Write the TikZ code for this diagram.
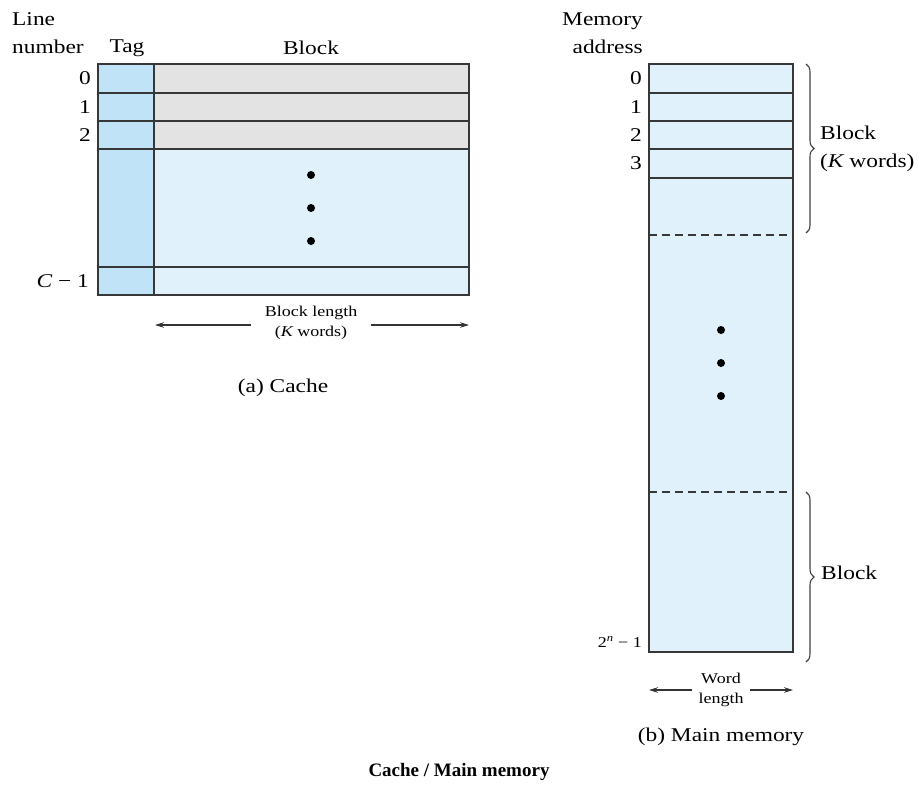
\documentclass[tikz,border=0pt]{standalone}
\usepackage{fontspec}
\setmainfont{Liberation Serif}[FakeStretch=1.2]
\newfontfamily\titlefont{Liberation Serif}
\usetikzlibrary{arrows.meta, positioning, decorations.pathreplacing, calc}
\usepackage{xcolor}
\definecolor{tagblue}{RGB}{192, 227, 247}
\definecolor{cellblue}{RGB}{224, 241, 252}
\definecolor{rowgray}{RGB}{227, 227, 227}
\definecolor{linegray}{RGB}{55, 55, 55}

\begin{document}
\begin{tikzpicture}[
  x=1pt, y=-1pt,
  lab/.style={font=\fontsize{19.5}{28}\selectfont, inner sep=0pt},
  small/.style={font=\fontsize{15}{20}\selectfont, inner sep=1pt, align=center},
  cell/.style={draw=linegray, line width=1.3pt},
  dcell/.style={draw=linegray, line width=1.2pt, dash pattern=on 8pt off 5pt},
  arr/.style={-{Stealth[length=9pt, width=5.5pt]}, line width=1.1pt, black!80},
  brc/.style={decorate, decoration={brace, amplitude=8pt}, line width=1.1pt, black!75},
  dot/.style={circle, fill=black, inner sep=0pt, minimum size=8pt}
]
\useasboundingbox (0,0) rectangle (919,787);

% (a) cache
\fill[tagblue]  (98,64)  rectangle (154,295);
\fill[rowgray]  (154,64) rectangle (469,149);
\fill[cellblue] (154,149) rectangle (469,295);
\draw[cell] (98,64) rectangle (469,295);
\draw[cell] (154,64) -- (154,295);
\foreach \y in {93,121,149,267}
  \draw[cell] (98,\y) -- (469,\y);

\node[lab, align=left, anchor=west] (linenum) at (12,33) {Line\\number};
\node[lab] (taghd)   at (127,48) {Tag};
\node[lab] (blockhd) at (311,48) {Block};
\foreach \y/\t in {78/0, 107/1, 135/2}
  \node[lab, anchor=east] (ln\t) at (91,\y) {\t};
\node[lab, anchor=east] (lnC) at (89,281) {{\itshape C} − 1};
\foreach \y in {175,208,241}
  \node[dot] (cd\y) at (311,\y) {};

\coordinate (blL) at (155,325);
\coordinate (blR) at (469,325);
\node[small, inner xsep=14pt] (blen) at (311,323) {Block length\\({\itshape K} words)};
\draw[arr] (blen.west |- blL) -- (blL);
\draw[arr] (blen.east |- blR) -- (blR);
\node[lab] (capa) at (283,388) {(a) Cache};

% (b) main memory
\fill[cellblue] (649,64) rectangle (793,652);
\draw[cell] (649,64) rectangle (793,652);
\foreach \y in {93,121,149,178}
  \draw[cell] (649,\y) -- (793,\y);
\foreach \y in {235,492}
  \draw[dcell] (649,\y) -- (793,\y);

\node[lab, align=right, anchor=east] (memaddr) at (643,33) {Memory\\address};
\foreach \y/\t in {78/0, 107/1, 135/2, 163/3}
  \node[lab, anchor=east] (ma\t) at (642,\y) {\t};
\node[small, anchor=east, inner sep=0pt] (malast) at (642,642) {2\textsuperscript{\itshape n} − 1};
\foreach \y in {330,363,396}
  \node[dot] (md\y) at (721,\y) {};

\coordinate (b1top) at (806,64);
\coordinate (b1bot) at (806,233);
\coordinate (b2top) at (806,492);
\coordinate (b2bot) at (806,662);
\draw[brc] (b1top) -- (b1bot);
\draw[brc] (b2top) -- (b2bot);
\node[lab, align=left, anchor=west] (blk1) at (820,149) {Block\\({\itshape K} words)};
\node[lab, anchor=west] (blk2) at (821,573) {Block};

\coordinate (wlL) at (649,690);
\coordinate (wlR) at (793,690);
\node[small, inner xsep=6pt] (wlen) at (721,690) {Word\\length};
\draw[arr] (wlen.west |- wlL) -- (wlL);
\draw[arr] (wlen.east |- wlR) -- (wlR);
\node[lab] (capb) at (721,737) {(b) Main memory};

\node[font=\titlefont\bfseries\fontsize{19}{22}\selectfont] (title) at (459,772) {Cache / Main memory};
\end{tikzpicture}
\end{document}
